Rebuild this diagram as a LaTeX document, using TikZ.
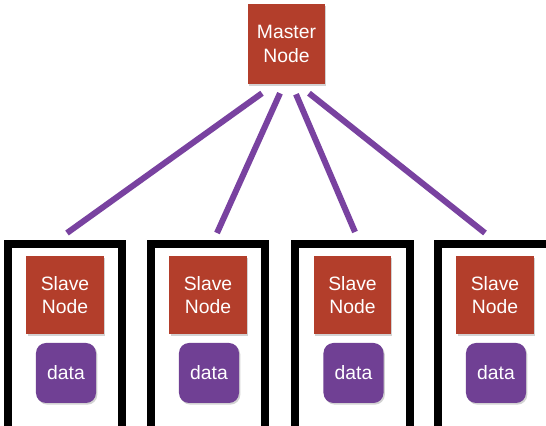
\documentclass[tikz,border=0pt]{standalone}
\usepackage{fontspec}
\setmainfont{Liberation Sans}
\usetikzlibrary{shadows}
\definecolor{nodered}{RGB}{179,62,43}
\definecolor{datapurple}{RGB}{112,64,148}
\definecolor{linkpurple}{RGB}{121,66,160}
\tikzset{
  nodebox/.style={fill=nodered, text=white, align=center,
    minimum width=2.31cm, minimum height=2.34cm, inner sep=0pt,
    font=\fontsize{16.5}{20}\selectfont,
    drop shadow={shadow xshift=0.04cm, shadow yshift=-0.05cm, opacity=0.35}},
  databox/.style={fill=datapurple, text=white, rounded corners=0.3cm,
    minimum width=1.8cm, minimum height=1.8cm, inner sep=0pt,
    font=\fontsize{16.5}{20}\selectfont,
    drop shadow={shadow xshift=0.04cm, shadow yshift=-0.05cm, opacity=0.35}},
  rackbox/.style={draw=black, line width=0.24cm, anchor=north,
    minimum width=3.42cm, minimum height=7.5cm},
  link/.style={draw=linkpurple, line width=0.18cm}
}
\begin{document}
\begin{tikzpicture}[x=0.03cm, y=-0.03cm]
        \clip (0,0) rectangle (546,426);
        \fill [white] (0,0) rectangle (546,426);
        % master
        \node [nodebox, minimum height=2.4cm] (master) at (286.5,44) {Master\\Node};
        % racks with slave node and data
        \foreach \i/\x in {1/65, 2/208, 3/352.5, 4/495} {
            \node [rackbox] (rack\i) at (\x,240) {};
            \node [nodebox] (slave\i) at (\x,295) {Slave\\Node};
            \node [databox] (data\i) at (\x+1,373) {data};
        }
        % links
        \draw [link] ([xshift=-0.735cm, yshift=-0.27cm]master.south) -- ([xshift=0.06cm, yshift=0.21cm]rack1.north);
        \draw [link] ([xshift=-0.195cm, yshift=-0.27cm]master.south) -- ([xshift=0.27cm, yshift=0.21cm]rack2.north);
        \draw [link] ([xshift=0.285cm, yshift=-0.3cm]master.south) -- ([xshift=0.075cm, yshift=0.24cm]rack3.north);
        \draw [link] ([xshift=0.675cm, yshift=-0.27cm]master.south) -- ([xshift=-0.3cm, yshift=0.21cm]rack4.north);
\end{tikzpicture}
\end{document}
